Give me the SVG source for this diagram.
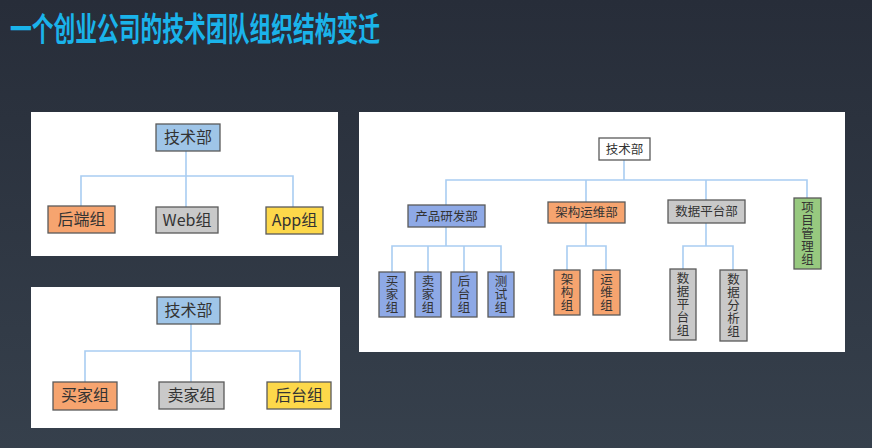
<svg xmlns="http://www.w3.org/2000/svg" width="872" height="448" viewBox="0 0 872 448">
<defs>
<linearGradient id="bg" x1="0" y1="0" x2="0" y2="1">
<stop offset="0" stop-color="#272d39"/>
<stop offset="1" stop-color="#36404c"/>
</linearGradient>
</defs>
<style>
.panel{fill:#ffffff}
.box{stroke:#5a5a5a;stroke-width:1.3}
.blue{fill:#9fc5e8}.org{fill:#f6a46f}.gray{fill:#c9c9c9}.yel{fill:#fdd84a}.wht{fill:#ffffff}.pb{fill:#8ea9e6}.grn{fill:#97c97f}
.ln{fill:none;stroke:#a9cdf2;stroke-width:1.6}
.t{font-family:"Noto Sans CJK SC","Noto Sans",sans-serif;fill:#333333;text-anchor:middle}
.t16{font-size:16px}
.t13{font-size:12.5px}
.v{writing-mode:vertical-rl;letter-spacing:0.5px;font-size:12.5px}
.title{font-family:"Noto Sans CJK SC",sans-serif;font-weight:bold;font-size:33px;fill:#1ab3ea}
</style>
<rect width="872" height="448" fill="url(#bg)"/>
<text class="title" x="10" y="41" textLength="370" lengthAdjust="spacingAndGlyphs">一个创业公司的技术团队组织结构变迁</text>

<rect class="panel" x="31" y="112" width="307" height="144"/>
<rect class="panel" x="31" y="287" width="309" height="141"/>
<rect class="panel" x="359" y="112" width="486" height="240"/>

<g id="connectors">
<path class="ln" d="M186 151V176M81 206V176H293V207M186 176V207"/>
<path class="ln" d="M191 324V351M85 382V351H300V382M191 351V382"/>
<path class="ln" d="M624 160V180M446 205V180H807V198M586 180V202M706 180V200"/>
<path class="ln" d="M446 227V246M392 272V246H501V272M428 246V272M464 246V272"/>
<path class="ln" d="M586 223V246M567 270V246H606V270"/>
<path class="ln" d="M706 223V246M683 269V246H733V270"/>
</g>

<g id="p1-root"><rect class="box blue" x="156" y="124" width="64" height="27"/><text class="t t16" x="188" y="143">技术部</text></g>
<g id="p1-backend"><rect class="box org" x="48" y="206" width="67" height="27"/><text class="t t16" x="81.5" y="225">后端组</text></g>
<g id="p1-web"><rect class="box gray" x="156" y="207" width="62" height="26"/><text class="t t16" x="187" y="226">Web组</text></g>
<g id="p1-app"><rect class="box yel" x="266" y="207" width="57" height="27"/><text class="t t16" x="294.5" y="226">App组</text></g>

<g id="p2-root"><rect class="box blue" x="157" y="297" width="63" height="27"/><text class="t t16" x="188.5" y="316">技术部</text></g>
<g id="p2-buyer"><rect class="box org" x="53" y="382" width="64" height="28"/><text class="t t16" x="85" y="401">买家组</text></g>
<g id="p2-seller"><rect class="box gray" x="159" y="382" width="65" height="27"/><text class="t t16" x="191.5" y="401">卖家组</text></g>
<g id="p2-backoffice"><rect class="box yel" x="267" y="382" width="64" height="27"/><text class="t t16" x="299" y="401">后台组</text></g>

<g id="p3-root"><rect class="box wht" x="599" y="138" width="51" height="22"/><text class="t t13" x="624.5" y="153.5">技术部</text></g>
<g id="p3-product"><rect class="box pb" x="408" y="205" width="77" height="22"/><text class="t t13" x="446.5" y="220.5">产品研发部</text></g>
<g id="p3-arch"><rect class="box org" x="548" y="202" width="77" height="21"/><text class="t t13" x="586.5" y="217">架构运维部</text></g>
<g id="p3-data"><rect class="box gray" x="668" y="200" width="77" height="23"/><text class="t t13" x="706.5" y="216">数据平台部</text></g>
<g id="p3-pm"><rect class="box grn" x="794" y="198" width="27" height="71"/><text class="t v" x="807.5" y="233.5">项目管理组</text></g>

<g id="p3-buyer"><rect class="box pb" x="379" y="272" width="26" height="45"/><text class="t v" x="392" y="294.5">买家组</text></g>
<g id="p3-seller"><rect class="box pb" x="415" y="272" width="26" height="45"/><text class="t v" x="428" y="294.5">卖家组</text></g>
<g id="p3-backoffice"><rect class="box pb" x="451" y="272" width="26" height="45"/><text class="t v" x="464" y="294.5">后台组</text></g>
<g id="p3-test"><rect class="box pb" x="488" y="272" width="26" height="45"/><text class="t v" x="501" y="294.5">测试组</text></g>

<g id="p3-archgrp"><rect class="box org" x="554" y="270" width="26" height="45"/><text class="t v" x="567" y="292.5">架构组</text></g>
<g id="p3-ops"><rect class="box org" x="593" y="270" width="27" height="45"/><text class="t v" x="606.5" y="292.5">运维组</text></g>

<g id="p3-dataplat"><rect class="box gray" x="670" y="269" width="26" height="71"/><text class="t v" x="683" y="304.5">数据平台组</text></g>
<g id="p3-analysis"><rect class="box gray" x="720" y="270" width="27" height="71"/><text class="t v" x="733.5" y="305.5">数据分析组</text></g>
</svg>
